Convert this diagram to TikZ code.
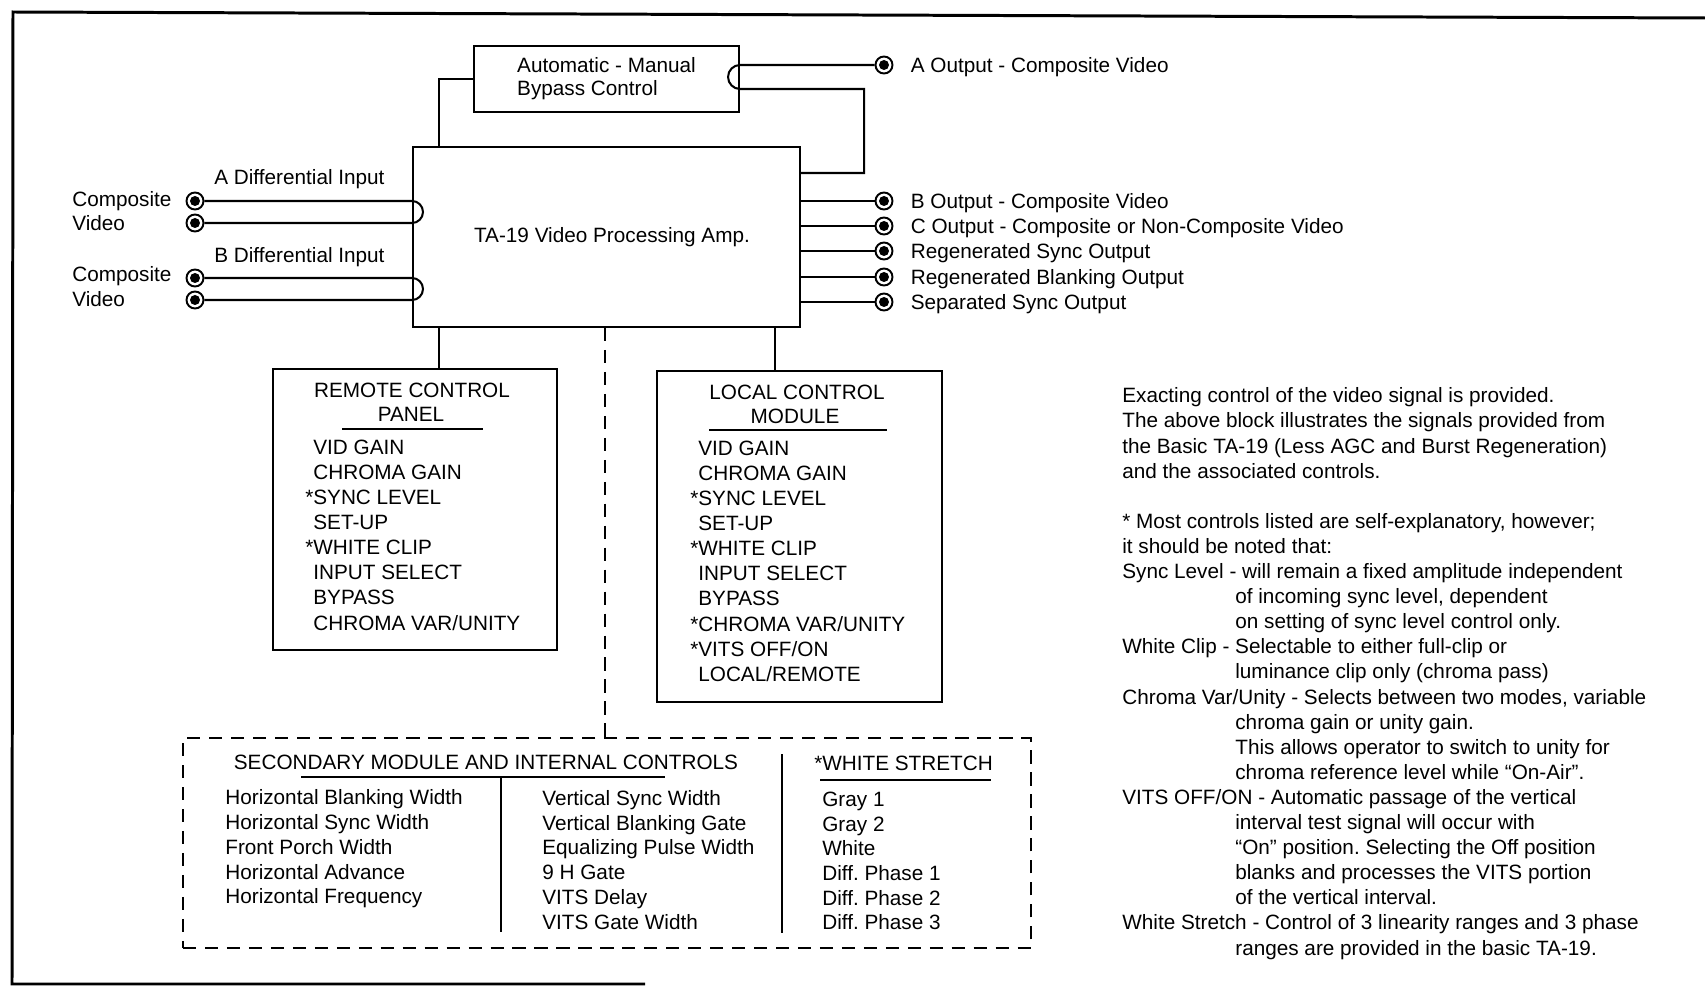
\documentclass[tikz,border=0pt]{standalone}
\usepackage{fontspec}
\setmainfont{Liberation Sans}
\usetikzlibrary{positioning}
\frenchspacing

\tikzset{
  wire/.style={line width=1.15pt},
  blk/.style={draw,line width=1.2pt,inner sep=0pt},
  txt/.style={inner sep=0pt,text height=8.4pt,text depth=0pt},
  jack/.style={circle,draw,line width=1.1pt,fill=white,inner sep=0pt,minimum size=0.34cm},
  dashln/.style={line width=1.2pt,dash pattern=on 7.5pt off 5pt},
}

\begin{document}
\begin{tikzpicture}[x=0.02cm,y=-0.02cm,font=\fontsize{11.8}{14}\selectfont]
\useasboundingbox (0,0) rectangle (1705,986);
% page frame
\draw[line width=1.7pt] (1705,18) -- (13,12) -- (12,984) -- (645,984);

% main blocks
\node[blk,minimum width=5.3cm,minimum height=1.32cm,align=left,font=\fontsize{11.8}{13}\selectfont] (byp) at (606.5,79) {Automatic - Manual\\Bypass Control};
\node[blk,minimum width=7.74cm,minimum height=3.6cm] (amp) at (606.5,237) {\hspace*{0.22cm}TA-19 Video Processing Amp.};
\node[blk,minimum width=5.68cm,minimum height=5.62cm,anchor=north west] (remote) at (272,368) {};
\node[blk,minimum width=5.7cm,minimum height=6.62cm,anchor=north west] (local) at (656,370) {};
\node[draw,dashln,minimum width=16.96cm,minimum height=4.2cm,anchor=north west] (sec) at (182,737) {};

\coordinate (tapL) at (439,0);
\coordinate (tapM) at (775,0);
\coordinate (tapD) at (605,0);
\coordinate (tapR) at (863,173);

% inputs
\node[jack] (inA1) at (195,201) {};
\node[jack] (inA2) at (195,223) {};
\node[jack] (inB1) at (195,278) {};
\node[jack] (inB2) at (195,300) {};
\node[txt,anchor=west] (srcA1) at (72,199) {Composite};
\node[txt,anchor=west] (srcA2) at (72,223) {Video};
\node[txt,anchor=west] (srcB1) at (72,274) {Composite};
\node[txt,anchor=west] (srcB2) at (72,299) {Video};
\node[txt,anchor=west] (labInA) at (214,177) {A Differential Input};
\node[txt,anchor=west] (labInB) at (214,255) {B Differential Input};
\draw[wire] (inA1) -- (inA1 -| amp.west) arc[start angle=90,end angle=-90,radius=0.22cm] -- (inA2);
\draw[wire] (inB1) -- (inB1 -| amp.west) arc[start angle=90,end angle=-90,radius=0.22cm] -- (inB2);

% outputs
\node[jack] (outA) at (884,65) {};
\node[jack] (outB) at (884,201) {};
\node[jack] (outC) at (884,226) {};
\node[jack] (outSync) at (884,251) {};
\node[jack] (outBlank) at (884,277) {};
\node[jack] (outSep) at (884,302) {};
\node[txt,right=0.34cm of outA] (labA) {A Output - Composite Video};
\node[txt,right=0.34cm of outB] (labB) {B Output - Composite Video};
\node[txt,right=0.34cm of outC] (labC) {C Output - Composite or Non-Composite Video};
\node[txt,right=0.34cm of outSync] (labSync) {Regenerated Sync Output};
\node[txt,right=0.34cm of outBlank] (labBlank) {Regenerated Blanking Output};
\node[txt,right=0.34cm of outSep] (labSep) {Separated Sync Output};
\foreach \o in {outB,outC,outSync,outBlank,outSep}
  \draw[wire] (\o -| amp.east) -- (\o);
\draw[wire] (outA) -- (outA -| byp.east) arc[start angle=90,end angle=270,radius=0.24cm] -- ++(124,0) |- (amp.east |- tapR);
\draw[wire] (byp.west) -| (amp.north -| tapL);
% jack centres
\foreach \j in {inA1,inA2,inB1,inB2,outA,outB,outC,outSync,outBlank,outSep}
  \fill (\j) circle (0.1cm);

% links to the control panels
\draw[wire] (amp.south -| tapL) -- (remote.north -| tapL);
\draw[wire] (amp.south -| tapM) -- (local.north -| tapM);
\draw[dashln] (amp.south -| tapD) -- (sec.north -| tapD);

% remote control panel
\node[txt] (remT1) at (412,390) {REMOTE CONTROL};
\node[txt] (remT2) at (411,414) {PANEL};
\draw[wire] (342,429) -- (483,429);
\foreach \t [count=\i from 0] in {VID GAIN,CHROMA GAIN,\llap{*}SYNC LEVEL,SET-UP,\llap{*}WHITE CLIP,INPUT SELECT,BYPASS,CHROMA VAR/UNITY}
  \node[txt,anchor=west] (rem\i) at (313,447+\i*25.1) {\t};

% local control module
\node[txt] (locT1) at (797,392) {LOCAL CONTROL};
\node[txt] (locT2) at (795,416) {MODULE};
\draw[wire] (709,430) -- (887,430);
\foreach \t [count=\i from 0] in {VID GAIN,CHROMA GAIN,\llap{*}SYNC LEVEL,SET-UP,\llap{*}WHITE CLIP,INPUT SELECT,BYPASS,\llap{*}CHROMA VAR/UNITY,\llap{*}VITS OFF/ON,LOCAL/REMOTE}
  \node[txt,anchor=west] (loc\i) at (698,448+\i*25.1) {\t};

% secondary module
\node[txt] (secT) at (486,762) {SECONDARY MODULE AND INTERNAL CONTROLS};
\draw[wire] (301,777) -- (665,777);
\draw[wire] (501,777) -- (501,932);
\draw[wire] (782,754) -- (782,933);
\node[txt,anchor=west] (wsT) at (822,763) {\llap{*}WHITE STRETCH};
\draw[wire] (820,780) -- (991,780);
\foreach \t [count=\i from 0] in {Horizontal Blanking Width,Horizontal Sync Width,Front Porch Width,Horizontal Advance,Horizontal Frequency}
  \node[txt,anchor=west] (sa\i) at (225,797+\i*24.9) {\t};
\foreach \t [count=\i from 0] in {Vertical Sync Width,Vertical Blanking Gate,Equalizing Pulse Width,9 H Gate,VITS Delay,VITS Gate Width}
  \node[txt,anchor=west] (sb\i) at (542,798+\i*24.8) {\t};
\foreach \t [count=\i from 0] in {Gray 1,Gray 2,White,Diff. Phase 1,Diff. Phase 2,Diff. Phase 3}
  \node[txt,anchor=west] (sc\i) at (822,799+\i*24.7) {\t};

% notes
\foreach \k/\ind/\t in {
  0/0/{Exacting control of the video signal is provided.},
  1/0/{The above block illustrates the signals provided from},
  2/0/{the Basic TA-19 (Less AGC and Burst Regeneration)},
  3/0/{and the associated controls.},
  5/0/{* Most controls listed are self-explanatory, however;},
  6/0/{it should be noted that:},
  7/0/{Sync Level - will remain a fixed amplitude independent},
  8/1/{of incoming sync level, dependent},
  9/1/{on setting of sync level control only.},
  10/0/{White Clip - Selectable to either full-clip or},
  11/1/{luminance clip only (chroma pass)},
  12/0/{Chroma Var/Unity - Selects between two modes, variable},
  13/1/{chroma gain or unity gain.},
  14/1/{This allows operator to switch to unity for},
  15/1/{chroma reference level while ``On-Air''.},
  16/0/{VITS OFF/ON - Automatic passage of the vertical},
  17/1/{interval test signal will occur with},
  18/1/{``On'' position. Selecting the Off position},
  19/1/{blanks and processes the VITS portion},
  20/1/{of the vertical interval.},
  21/0/{White Stretch - Control of 3 linearity ranges and 3 phase},
  22/1/{ranges are provided in the basic TA-19.}}
  \node[txt,anchor=west] (note\k) at (1122+\ind*113,395.5+\k*25.1) {\t};
\end{tikzpicture}
\end{document}
